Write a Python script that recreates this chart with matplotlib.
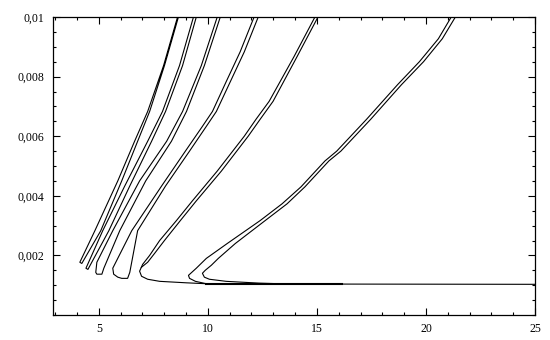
import matplotlib
matplotlib.use("Agg")
import matplotlib.pyplot as plt
from matplotlib.ticker import MultipleLocator

# curves, each family drawn as one or two polylines
# family 1 (narrow V: top -> tip -> top)
f1_x = [8.61, 7.97, 7.24, 6.64, 5.87, 4.82, 4.13, 4.22, 5.09, 6.05, 6.78, 7.33, 8.01, 8.65]
f1_y = [0.0100, 0.00837, 0.00683, 0.00583, 0.0045, 0.00283, 0.00177, 0.00173, 0.00283, 0.0045, 0.00583, 0.00683, 0.00837, 0.0100]

# family 2
f2_x = [9.34, 8.70, 7.92, 7.24, 6.19, 5.18, 4.41, 4.50, 5.46, 6.42, 7.42, 8.06, 8.84, 9.47]
f2_y = [0.0100, 0.00837, 0.00683, 0.00583, 0.00433, 0.00283, 0.00157, 0.00153, 0.00283, 0.00433, 0.00583, 0.00683, 0.00837, 0.0100]

# family 3 (U shape)
f3_x = [10.43, 9.70, 8.84, 8.11, 6.87, 5.64, 4.91, 4.86, 4.91, 5.14, 5.23, 5.96, 7.15, 8.33, 9.02, 9.84, 10.57]
f3_y = [0.0100, 0.00837, 0.00683, 0.00583, 0.0045, 0.00283, 0.00177, 0.00143, 0.00137, 0.00137, 0.00157, 0.00283, 0.0045, 0.00583, 0.00683, 0.00837, 0.0100]

# family 4 (cup)
f4_x = [12.12, 11.48, 10.84, 10.21, 9.75, 8.97, 7.88, 6.51, 5.64, 5.68, 5.87, 6.05, 6.32, 6.42, 6.78, 8.06, 9.16, 9.93, 10.39, 11.03, 11.67, 12.31]
f4_y = [0.0100, 0.00883, 0.00783, 0.00683, 0.00633, 0.0055, 0.00433, 0.00283, 0.00157, 0.00137, 0.00127, 0.00123, 0.00123, 0.00143, 0.00283, 0.00433, 0.0055, 0.00633, 0.00683, 0.00783, 0.00883, 0.0100]

# family 5 (hook + inner line)
f5_x = [14.91, 13.95, 12.81, 12.21, 11.67, 10.43, 9.29, 8.56, 7.79, 7.33, 7.01, 6.87, 6.96, 7.24, 7.79, 9.02, 9.93]
f5_y = [0.0100, 0.00867, 0.00717, 0.00657, 0.0060, 0.00483, 0.00383, 0.00317, 0.0025, 0.0020, 0.0017, 0.00147, 0.0013, 0.0012, 0.00113, 0.00108, 0.00105]
f5i_x = [15.05, 14.09, 12.99, 12.40, 11.85, 10.62, 9.47, 8.74, 8.01, 7.56, 7.24, 6.95]
f5i_y = [0.0100, 0.00867, 0.00717, 0.00657, 0.0060, 0.00483, 0.00383, 0.00317, 0.0025, 0.00207, 0.00177, 0.0016]

# family 6 (two hooks, inner one runs out along the floor)
f6_x = [21.16, 20.57, 19.70, 18.70, 17.28, 15.91, 15.37, 14.27, 13.40, 12.40, 10.89, 9.93, 9.47, 9.11, 9.16, 9.43, 9.93]
f6_y = [0.0100, 0.00927, 0.0085, 0.00773, 0.00657, 0.0055, 0.00517, 0.0043, 0.00373, 0.00317, 0.0024, 0.0019, 0.00157, 0.00133, 0.00123, 0.00113, 0.00105]
f6i_x = [21.35, 20.75, 19.89, 18.88, 17.47, 16.10, 15.55, 14.45, 13.63, 12.63, 11.26, 10.48, 10.16, 9.88, 9.75, 9.84, 10.07, 10.84, 12.35, 13.72, 25.0]
f6i_y = [0.0100, 0.00927, 0.0085, 0.00773, 0.00657, 0.0055, 0.00517, 0.0043, 0.00373, 0.00317, 0.0024, 0.0019, 0.00167, 0.0015, 0.0014, 0.00127, 0.0012, 0.00113, 0.00107, 0.00104, 0.00103]

# heavier stretch of the floor line
flat_x = [9.93, 16.14]
flat_y = [0.00104, 0.00104]

x_ticks = [5, 10, 15, 20, 25]
y_ticks = [0.002, 0.004, 0.006, 0.008, 0.01]
y_labels = ["0,002", "0,004", "0,006", "0,008", "0,01"]

fig = plt.figure(figsize=(5.5, 3.4), dpi=100)
ax = fig.add_axes([0.0964, 0.0735, 0.8763, 0.8765])

lw = 0.8
for xs, ys in [(f1_x, f1_y), (f2_x, f2_y), (f3_x, f3_y), (f4_x, f4_y),
               (f5_x, f5_y), (f5i_x, f5i_y), (f6_x, f6_y), (f6i_x, f6i_y)]:
    ax.plot(xs, ys, color="black", lw=lw, solid_joinstyle="round")
ax.plot(flat_x, flat_y, color="black", lw=1.5)

ax.set_xlim(2.9, 25)
ax.set_ylim(0, 0.01)

ax.set_xticks(x_ticks)
ax.set_xticklabels([str(t) for t in x_ticks])
ax.set_yticks(y_ticks)
ax.set_yticklabels(y_labels)
ax.xaxis.set_minor_locator(MultipleLocator(1))
ax.yaxis.set_minor_locator(MultipleLocator(0.0005))

ax.tick_params(which="both", direction="in", top=True, right=True, width=0.8,
               labelsize=8.5, pad=6)
ax.tick_params(which="major", length=5)
ax.tick_params(which="minor", length=2.5)
for lab in ax.get_xticklabels() + ax.get_yticklabels():
    lab.set_family("Liberation Serif")
for sp in ax.spines.values():
    sp.set_linewidth(0.9)

fig.savefig("out.png", dpi=100)
